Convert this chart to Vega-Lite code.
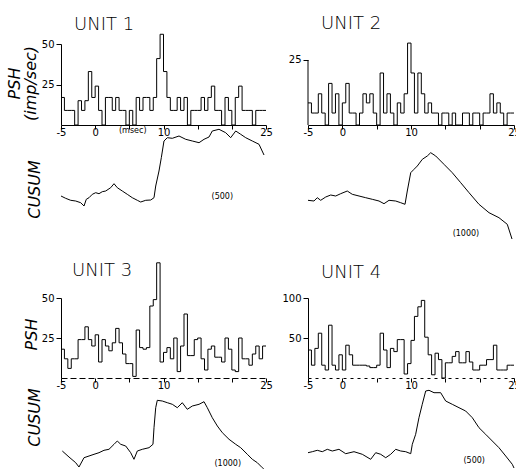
{
"$schema": "https://vega.github.io/schema/vega-lite/v6.json",
"autosize": {"type": "pad"},
"padding": {"left": 6, "top": 15, "right": 0, "bottom": 0},
"background": "white",
"columns": 2,
"spacing": {"row": 4, "column": 42},
"bounds": "flush",
"config": {
  "view": {"stroke": null},
  "font": "DejaVu Sans",
  "axis": {"labelFont": "DejaVu Sans", "labelFontSize": 10, "labelColor": "black", "tickColor": "black", "domainColor": "black", "grid": false, "titleFont": "DejaVu Sans", "titleFontSize": 16, "titleFontStyle": "italic", "titleFontWeight": "normal", "titleColor": "black", "labelFlush": false, "labelOverlap": false},
  "title": {"font": "DejaVu Sans", "fontSize": 18, "fontWeight": 200, "color": "black", "anchor": "start", "frame": "group", "dx": 13},
  "line": {"color": "black", "strokeWidth": 1},
  "text": {"font": "DejaVu Sans", "fontSize": 8, "color": "black"}
},
"datasets": {
  "psh1": [{"t":-5,"r":17},{"t":-4.5,"r":9},{"t":-4,"r":9},{"t":-3.5,"r":9},{"t":-3,"r":0},{"t":-2.5,"r":15},{"t":-2,"r":9},{"t":-1.5,"r":15},{"t":-1,"r":33},{"t":-0.5,"r":17},{"t":0,"r":24},{"t":0.5,"r":9},{"t":1,"r":0},{"t":1.5,"r":17},{"t":2,"r":17},{"t":2.5,"r":9},{"t":3,"r":17},{"t":3.5,"r":9},{"t":4,"r":9},{"t":4.5,"r":0},{"t":5,"r":9},{"t":5.5,"r":0},{"t":6,"r":17},{"t":6.5,"r":9},{"t":7,"r":17},{"t":7.5,"r":17},{"t":8,"r":9},{"t":8.5,"r":17},{"t":9,"r":41},{"t":9.5,"r":56},{"t":10,"r":33},{"t":10.5,"r":17},{"t":11,"r":9},{"t":11.5,"r":9},{"t":12,"r":17},{"t":12.5,"r":9},{"t":13,"r":17},{"t":13.5,"r":0},{"t":14,"r":9},{"t":14.5,"r":9},{"t":15,"r":9},{"t":15.5,"r":17},{"t":16,"r":9},{"t":16.5,"r":17},{"t":17,"r":24},{"t":17.5,"r":9},{"t":18,"r":9},{"t":18.5,"r":0},{"t":19,"r":17},{"t":19.5,"r":9},{"t":20,"r":0},{"t":20.5,"r":17},{"t":21,"r":24},{"t":21.5,"r":9},{"t":22,"r":9},{"t":22.5,"r":9},{"t":23,"r":0},{"t":23.5,"r":9},{"t":24,"r":9},{"t":24.5,"r":9},{"t":25,"r":9}],
  "psh2": [{"t":-5,"r":8.5},{"t":-4.5,"r":4.6},{"t":-4,"r":4.6},{"t":-3.5,"r":12},{"t":-3,"r":4.6},{"t":-2.5,"r":0},{"t":-2,"r":16},{"t":-1.5,"r":4.6},{"t":-1,"r":12},{"t":-0.5,"r":0},{"t":0,"r":8.5},{"t":0.5,"r":16},{"t":1,"r":4.6},{"t":1.5,"r":4.6},{"t":2,"r":0},{"t":2.5,"r":4.6},{"t":3,"r":12},{"t":3.5,"r":8.5},{"t":4,"r":12},{"t":4.5,"r":4.6},{"t":5,"r":0},{"t":5.5,"r":20},{"t":6,"r":4.6},{"t":6.5,"r":12},{"t":7,"r":4.6},{"t":7.5,"r":0},{"t":8,"r":8.5},{"t":8.5,"r":4.6},{"t":9,"r":12},{"t":9.5,"r":31.5},{"t":10,"r":20},{"t":10.5,"r":4.6},{"t":11,"r":20},{"t":11.5,"r":12},{"t":12,"r":4.6},{"t":12.5,"r":8.5},{"t":13,"r":4.6},{"t":13.5,"r":4.6},{"t":14,"r":0},{"t":14.5,"r":4.6},{"t":15,"r":4.6},{"t":15.5,"r":0},{"t":16,"r":4.6},{"t":16.5,"r":0},{"t":17,"r":0},{"t":17.5,"r":4.6},{"t":18,"r":4.6},{"t":18.5,"r":0},{"t":19,"r":4.6},{"t":19.5,"r":4.6},{"t":20,"r":0},{"t":20.5,"r":4.6},{"t":21,"r":4.6},{"t":21.5,"r":12},{"t":22,"r":4.6},{"t":22.5,"r":8.5},{"t":23,"r":4.6},{"t":23.5,"r":0},{"t":24,"r":4.6},{"t":24.5,"r":4.6},{"t":25,"r":4.6}],
  "psh3": [{"t":-5,"r":18},{"t":-4.5,"r":12},{"t":-4,"r":6},{"t":-3.5,"r":12},{"t":-3,"r":12},{"t":-2.5,"r":24},{"t":-2,"r":24},{"t":-1.5,"r":32},{"t":-1,"r":24},{"t":-0.5,"r":20},{"t":0,"r":27},{"t":0.5,"r":10},{"t":1,"r":24},{"t":1.5,"r":20},{"t":2,"r":17},{"t":2.5,"r":22},{"t":3,"r":31},{"t":3.5,"r":22},{"t":4,"r":15},{"t":4.5,"r":9},{"t":5,"r":9},{"t":5.5,"r":1},{"t":6,"r":30},{"t":6.5,"r":19},{"t":7,"r":18},{"t":7.5,"r":19},{"t":8,"r":45},{"t":8.5,"r":49},{"t":9,"r":72},{"t":9.5,"r":10},{"t":10,"r":16},{"t":10.5,"r":19},{"t":11,"r":12},{"t":11.5,"r":25},{"t":12,"r":4},{"t":12.5,"r":20},{"t":13,"r":40},{"t":13.5,"r":14},{"t":14,"r":14},{"t":14.5,"r":24},{"t":15,"r":25},{"t":15.5,"r":12},{"t":16,"r":5},{"t":16.5,"r":18},{"t":17,"r":20},{"t":17.5,"r":13},{"t":18,"r":13},{"t":18.5,"r":10},{"t":19,"r":25},{"t":19.5,"r":18},{"t":20,"r":5},{"t":20.5,"r":4},{"t":21,"r":25},{"t":21.5,"r":12},{"t":22,"r":12},{"t":22.5,"r":8},{"t":23,"r":15},{"t":23.5,"r":20},{"t":24,"r":12},{"t":24.5,"r":20},{"t":25,"r":20}],
  "psh4": [{"t":-5,"r":35},{"t":-4.5,"r":16},{"t":-4,"r":37},{"t":-3.5,"r":56},{"t":-3,"r":16},{"t":-2.5,"r":10},{"t":-2,"r":66},{"t":-1.5,"r":16},{"t":-1,"r":10},{"t":-0.5,"r":29},{"t":0,"r":10},{"t":0.5,"r":41},{"t":1,"r":29},{"t":1.5,"r":16},{"t":2,"r":16},{"t":2.5,"r":16},{"t":3,"r":16},{"t":3.5,"r":15},{"t":4,"r":13},{"t":4.5,"r":13},{"t":5,"r":16},{"t":5.5,"r":56},{"t":6,"r":35},{"t":6.5,"r":13},{"t":7,"r":37},{"t":7.5,"r":33},{"t":8,"r":48},{"t":8.5,"r":48},{"t":9,"r":5},{"t":9.5,"r":18},{"t":10,"r":47},{"t":10.5,"r":77},{"t":11,"r":89},{"t":11.5,"r":97},{"t":12,"r":51},{"t":12.5,"r":29},{"t":13,"r":4},{"t":13.5,"r":31},{"t":14,"r":23},{"t":14.5,"r":0},{"t":15,"r":19},{"t":15.5,"r":19},{"t":16,"r":27},{"t":16.5,"r":33},{"t":17,"r":19},{"t":17.5,"r":19},{"t":18,"r":33},{"t":18.5,"r":20},{"t":19,"r":10},{"t":19.5,"r":10},{"t":20,"r":16},{"t":20.5,"r":16},{"t":21,"r":23},{"t":21.5,"r":23},{"t":22,"r":41},{"t":22.5,"r":10},{"t":23,"r":10},{"t":23.5,"r":10},{"t":24,"r":16},{"t":24.5,"r":16},{"t":25,"r":16}],
  "cus1": [{"t":-5,"c":98},{"t":-4.32,"c":95.7},{"t":-3.58,"c":93.7},{"t":-2.85,"c":93},{"t":-2.12,"c":91.3},{"t":-1.63,"c":88},{"t":-1.3,"c":94.7},{"t":-0.9,"c":96.3},{"t":-0.42,"c":99.7},{"t":0.08,"c":101.3},{"t":0.56,"c":100.3},{"t":1.04,"c":102.3},{"t":1.54,"c":103},{"t":2.27,"c":106.3},{"t":2.76,"c":110.3},{"t":3.24,"c":106.3},{"t":3.97,"c":103},{"t":4.7,"c":99.7},{"t":5.43,"c":96.3},{"t":6.17,"c":93.7},{"t":6.66,"c":92},{"t":7.4,"c":93.7},{"t":8.13,"c":94},{"t":8.61,"c":96.3},{"t":8.86,"c":108},{"t":9.34,"c":123},{"t":9.68,"c":136.3},{"t":10.07,"c":153},{"t":10.56,"c":156.3},{"t":11.29,"c":155.7},{"t":12.27,"c":158},{"t":13.25,"c":154.7},{"t":14.22,"c":153},{"t":15.2,"c":151.3},{"t":15.93,"c":154.7},{"t":16.66,"c":157},{"t":17.14,"c":163},{"t":18.12,"c":164.7},{"t":19.1,"c":161.3},{"t":19.83,"c":156.3},{"t":20.57,"c":163},{"t":21.3,"c":159.7},{"t":22.03,"c":156.3},{"t":23,"c":153},{"t":23.98,"c":149.7},{"t":24.71,"c":139}],
  "cus2": [{"t":-5,"c":93.7},{"t":-4.13,"c":93},{"t":-3.65,"c":96.3},{"t":-3.15,"c":93.7},{"t":-2.42,"c":97},{"t":-1.69,"c":99},{"t":-0.97,"c":98},{"t":-0.24,"c":100.3},{"t":0.72,"c":103},{"t":1.45,"c":99.7},{"t":2.43,"c":98},{"t":3.4,"c":96.3},{"t":4.36,"c":94.7},{"t":5.34,"c":93},{"t":6.07,"c":90.3},{"t":6.8,"c":93.7},{"t":7.77,"c":93},{"t":8.5,"c":91.3},{"t":9.13,"c":89.7},{"t":9.46,"c":103},{"t":9.96,"c":121.3},{"t":10.44,"c":124.7},{"t":10.92,"c":128},{"t":11.65,"c":134.7},{"t":12.37,"c":138},{"t":12.87,"c":141.3},{"t":13.6,"c":138},{"t":14.8,"c":129.7},{"t":16.01,"c":121.3},{"t":17.24,"c":111.3},{"t":18.45,"c":101.3},{"t":19.9,"c":89.7},{"t":21.36,"c":81.3},{"t":22.81,"c":76.3},{"t":24.02,"c":69.7},{"t":24.71,"c":55}],
  "cus3": [{"t":-4.81,"c":19},{"t":-3.83,"c":13},{"t":-2.85,"c":7.3},{"t":-2.37,"c":3},{"t":-1.63,"c":12.3},{"t":-0.9,"c":14},{"t":-0.17,"c":15.7},{"t":0.56,"c":17.3},{"t":1.29,"c":19.7},{"t":2.02,"c":20.7},{"t":2.76,"c":25.7},{"t":3.24,"c":29},{"t":3.74,"c":25.7},{"t":4.47,"c":24},{"t":5.2,"c":17.3},{"t":5.68,"c":10.7},{"t":6.17,"c":19},{"t":6.9,"c":20.7},{"t":7.88,"c":22.3},{"t":8.46,"c":25.7},{"t":8.61,"c":42.3},{"t":8.86,"c":62.3},{"t":9.09,"c":69.7},{"t":9.82,"c":69},{"t":10.56,"c":67.3},{"t":11.29,"c":65.7},{"t":12.02,"c":62.3},{"t":12.75,"c":67.3},{"t":13.48,"c":60.7},{"t":14.22,"c":64},{"t":15.2,"c":65.7},{"t":15.93,"c":68.3},{"t":16.41,"c":62.3},{"t":17.14,"c":52.3},{"t":17.88,"c":44},{"t":18.61,"c":37.3},{"t":19.59,"c":30.7},{"t":20.57,"c":25.7},{"t":21.3,"c":22.3},{"t":22.27,"c":15.7},{"t":23,"c":10.7},{"t":23.73,"c":7.3},{"t":24.46,"c":2.3},{"t":24.96,"c":-1}],
  "cus4": [{"t":-5,"c":17.3},{"t":-4.37,"c":18.3},{"t":-3.65,"c":19.7},{"t":-2.92,"c":18.3},{"t":-2.19,"c":20.7},{"t":-1.46,"c":19},{"t":-0.49,"c":20.7},{"t":0.49,"c":16.3},{"t":1.7,"c":18.3},{"t":2.91,"c":15.7},{"t":4.13,"c":10.7},{"t":4.86,"c":17.3},{"t":5.59,"c":15.7},{"t":6.32,"c":12.3},{"t":7.04,"c":15.7},{"t":7.77,"c":20.7},{"t":8.5,"c":19},{"t":9.23,"c":18.3},{"t":9.96,"c":16.3},{"t":10.19,"c":25.7},{"t":10.68,"c":35.7},{"t":11.16,"c":52.3},{"t":11.64,"c":65.7},{"t":12.14,"c":79},{"t":12.62,"c":79.7},{"t":13.35,"c":77.3},{"t":14.32,"c":77.3},{"t":15.05,"c":69},{"t":16.01,"c":65.7},{"t":16.99,"c":62.3},{"t":17.96,"c":59},{"t":18.93,"c":52.3},{"t":19.9,"c":42.3},{"t":20.87,"c":35.7},{"t":21.84,"c":29},{"t":22.81,"c":22.3},{"t":23.79,"c":14},{"t":24.75,"c":5.7},{"t":25,"c":2}]
},
"concat": [
  {"title": {"text": "UNIT 1", "offset": -2}, "width": 205, "height": 81,
   "encoding": {
     "x": {"field": "t", "type": "quantitative", "scale": {"domain": [-5, 25], "nice": false, "zero": false}, "axis": {"values": [-5,0,5,10,15,20,25], "labelExpr": "indexof([-5,0,10,25], datum.value) >= 0 ? toString(datum.value) : ''", "labelOverlap": false, "labelFlush": false, "title": null, "tickSize": 4, "labelPadding": -2}},
     "y": {"field": "r", "type": "quantitative", "scale": {"domain": [0, 50], "nice": false}, "axis": {"values": [25, 50], "title": ["PSH", "(imp/sec)"], "titleX": -47, "titleY": 39, "titleAngle": -90, "titleAlign": "center", "titleBaseline": "middle", "titleLineHeight": 16, "tickSize": 5}}
   },
   "layer": [
    {"data": {"name": "psh1"}, "mark": {"type": "line", "interpolate": "step-after"}},
    {"data": {"values": [{"t": 5.5, "r": -3.5, "label": "(msec)"}]}, "mark": {"type": "text", "baseline": "middle"},
     "encoding": {"text": {"field": "label"}}}
   ]},
  {"title": {"text": "UNIT 2", "offset": 8}, "width": 206, "height": 81,
   "encoding": {
     "x": {"field": "t", "type": "quantitative", "scale": {"domain": [-5, 25], "nice": false, "zero": false}, "axis": {"values": [-5,0,5,10,15,20,25], "labelExpr": "indexof([-5,0,10,25], datum.value) >= 0 ? toString(datum.value) : ''", "labelOverlap": false, "labelFlush": false, "title": null, "tickSize": 4, "labelPadding": -2}},
     "y": {"field": "r", "type": "quantitative", "scale": {"domain": [0, 31.15], "nice": false}, "axis": {"values": [25], "title": null, "domain": false, "tickSize": 5}}
   },
   "layer": [
    {"data": {"name": "psh2"}, "mark": {"type": "line", "interpolate": "step-after"}},
    {"data": {"values": [{"t": -5, "r": 0, "r2": 25}]}, "mark": {"type": "rule", "color": "black"},
     "encoding": {"y2": {"field": "r2"}}}
   ]},
  {"width": 205, "height": 165,
   "encoding": {
     "x": {"field": "t", "type": "quantitative", "scale": {"domain": [-5, 25], "nice": false, "zero": false}, "axis": null},
     "y": {"field": "c", "type": "quantitative", "scale": {"domain": [0, 165], "nice": false}, "axis": {"title": "CUSUM", "domain": false, "ticks": false, "labels": false, "titleX": -27, "titleY": 60, "titleAngle": -90, "titleAlign": "center", "titleBaseline": "middle"}}
   },
   "layer": [
    {"data": {"name": "cus1"}, "mark": "line"},
    {"data": {"values": [{"t": 18.6, "c": 97, "label": "(500)"}]}, "mark": {"type": "text", "baseline": "middle"},
     "encoding": {"text": {"field": "label"}}}
   ]},
  {"width": 206, "height": 165,
   "encoding": {
     "x": {"field": "t", "type": "quantitative", "scale": {"domain": [-5, 25], "nice": false, "zero": false}, "axis": null},
     "y": {"field": "c", "type": "quantitative", "scale": {"domain": [0, 165], "nice": false}, "axis": null}
   },
   "layer": [
    {"data": {"name": "cus2"}, "mark": "line"},
    {"data": {"values": [{"t": 18.0, "c": 60, "label": "(1000)"}]}, "mark": {"type": "text", "baseline": "middle"},
     "encoding": {"text": {"field": "label"}}}
   ]},
  {"title": {"text": "UNIT 3", "offset": -19, "dx": 11}, "width": 205, "height": 80,
   "data": {"name": "psh3"}, "mark": {"type": "line", "interpolate": "step-after"},
   "encoding": {
     "x": {"field": "t", "type": "quantitative", "scale": {"domain": [-5, 25], "nice": false, "zero": false}, "axis": {"values": [-5,0,5,10,15,20,25], "labelExpr": "indexof([-5,0,10,25], datum.value) >= 0 ? toString(datum.value) : ''", "labelOverlap": false, "labelFlush": false, "title": null, "tickSize": 4, "labelPadding": -2, "domainDash": [6, 3]}},
     "y": {"field": "r", "type": "quantitative", "scale": {"domain": [0, 50], "nice": false}, "axis": {"values": [25, 50], "title": "PSH", "titleX": -30, "titleY": 36, "titleAngle": -90, "titleAlign": "center", "titleBaseline": "middle", "tickSize": 5}}
   }},
  {"title": {"text": "UNIT 4", "offset": 11}, "width": 206, "height": 80,
   "data": {"name": "psh4"}, "mark": {"type": "line", "interpolate": "step-after"},
   "encoding": {
     "x": {"field": "t", "type": "quantitative", "scale": {"domain": [-5, 25], "nice": false, "zero": false}, "axis": {"values": [-5,0,5,10,15,20,25], "labelExpr": "indexof([-5,0,10,25], datum.value) >= 0 ? toString(datum.value) : ''", "labelOverlap": false, "labelFlush": false, "title": null, "tickSize": 4, "labelPadding": -2, "domainDash": [3, 4]}},
     "y": {"field": "r", "type": "quantitative", "scale": {"domain": [0, 100], "nice": false}, "axis": {"values": [50, 100], "title": null, "tickSize": 5}}
   }},
  {"width": 205, "height": 88,
   "encoding": {
     "x": {"field": "t", "type": "quantitative", "scale": {"domain": [-5, 25], "nice": false, "zero": false}, "axis": null},
     "y": {"field": "c", "type": "quantitative", "scale": {"domain": [0, 88], "nice": false}, "axis": {"title": "CUSUM", "domain": false, "ticks": false, "labels": false, "titleX": -27, "titleY": 35, "titleAngle": -90, "titleAlign": "center", "titleBaseline": "middle"}}
   },
   "layer": [
    {"data": {"name": "cus3"}, "mark": "line"},
    {"data": {"values": [{"t": 19.4, "c": 6, "label": "(1000)"}]}, "mark": {"type": "text", "baseline": "middle"},
     "encoding": {"text": {"field": "label"}}}
   ]},
  {"width": 206, "height": 88,
   "encoding": {
     "x": {"field": "t", "type": "quantitative", "scale": {"domain": [-5, 25], "nice": false, "zero": false}, "axis": null},
     "y": {"field": "c", "type": "quantitative", "scale": {"domain": [0, 88], "nice": false}, "axis": null}
   },
   "layer": [
    {"data": {"name": "cus4"}, "mark": "line"},
    {"data": {"values": [{"t": 19.2, "c": 9, "label": "(500)"}]}, "mark": {"type": "text", "baseline": "middle"},
     "encoding": {"text": {"field": "label"}}}
   ]}
]
}
